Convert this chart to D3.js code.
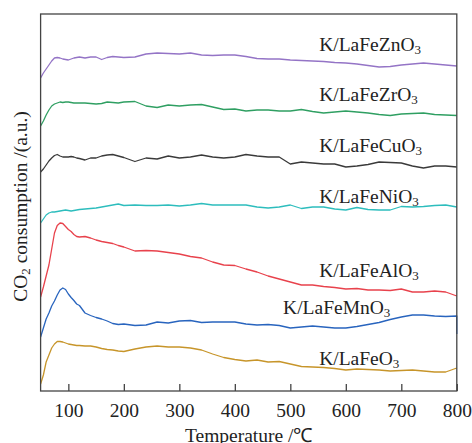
<!DOCTYPE html>
<html>
<head>
<meta charset="utf-8">
<script src="https://cdn.jsdelivr.net/npm/d3@7"></script>
<style>
  html, body { margin: 0; padding: 0; background: #fff; }
  svg { display: block; font-family: "Liberation Serif", "Times New Roman", serif; }
</style>
</head>
<body>
<svg id="chart"></svg>
<script>
// temperature grid (°C) shared by all curves
const temps = [50, 55, 60, 65, 70, 75, 80, 85, 90, 95, 100, 105, 110, 115, 120,
  130, 140, 150, 160, 170, 180, 190,
  200, 220, 240, 260, 280, 300, 320, 340, 360, 380, 400, 420, 440, 460, 480, 500,
  520, 540, 560, 580, 600, 620, 640, 660, 680, 700, 720, 740, 760, 780, 800];

// CO2 signal, arbitrary units (curves are stacked with offsets as in the figure)
const znO3 = [31.3, 31.8, 32.2, 32.6, 33.0, 33.3, 33.35, 33.3, 33.2, 33.15, 33.1, 33.2, 33.3, 33.35, 33.4,
  33.3, 33.4, 33.4, 33.15, 33.35, 33.45, 33.4,
  33.35, 33.4, 33.7, 33.8, 33.75, 33.7, 33.8, 33.6, 33.55, 33.6, 33.6, 33.45, 33.25, 33.2, 33.2, 33.1,
  33.05, 33.0, 32.95, 32.85, 32.8, 32.7, 32.55, 32.4, 32.45, 32.6, 32.7, 32.8, 32.7, 32.6, 32.5];
const zrO3 = [26.5, 27.0, 27.6, 28.1, 28.5, 28.7, 28.8, 28.9, 28.85, 28.9, 28.9, 28.85, 28.8, 28.8, 28.8,
  28.8, 28.75, 28.7, 28.75, 28.9, 28.85, 28.8,
  28.9, 28.95, 28.5, 28.35, 28.6, 28.5, 28.6, 28.65, 28.4, 28.15, 28.2, 28.0, 28.1, 28.1, 28.0, 28.0,
  28.15, 27.95, 27.8, 27.9, 28.0, 27.9, 27.8, 27.65, 27.55, 27.7, 27.75, 27.8, 27.65, 27.6, 27.55];
const cuO3 = [21.9, 22.2, 22.6, 23.0, 23.3, 23.55, 23.65, 23.5, 23.4, 23.4, 23.4, 23.45, 23.4, 23.3, 23.25,
  23.1, 23.3, 23.3, 23.5, 23.6, 23.65, 23.5,
  23.35, 22.95, 23.3, 23.2, 23.5, 23.3, 23.4, 23.6, 23.4, 23.3, 23.4, 23.65, 23.5, 23.4, 23.4, 22.7,
  22.9, 22.8, 22.7, 22.7, 22.4, 22.5, 22.65, 22.9, 22.85, 22.8, 22.5, 22.3, 22.5, 22.5, 22.4];
const niO3 = [16.8, 17.2, 17.6, 17.8, 17.9, 17.9, 17.95, 18.0, 18.05, 18.1, 18.05, 18.0, 18.05, 18.1, 18.15,
  18.2, 18.25, 18.3, 18.4, 18.5, 18.6, 18.7,
  18.55, 18.6, 18.55, 18.55, 18.6, 18.5, 18.6, 18.75, 18.6, 18.6, 18.6, 18.6, 18.4, 18.3, 18.4, 18.6,
  18.25, 18.4, 18.4, 18.2, 18.1, 18.35, 18.15, 18.1, 18.1, 18.45, 18.4, 18.45, 18.55, 18.6, 18.4];
const alO3 = [9.4, 10.4, 11.5, 12.6, 14.2, 15.8, 16.55, 16.8, 16.75, 16.45, 16.15, 15.95, 15.65, 15.45, 15.4,
  15.45, 15.3, 15.1, 14.95, 14.85, 14.75, 14.55,
  14.4, 14.0, 14.05, 14.0, 13.85, 13.7, 13.45, 13.3, 12.9, 12.6, 12.55, 12.2, 11.9, 11.5, 11.2, 10.9,
  10.6, 10.6, 10.45, 10.35, 10.2, 10.25, 10.1, 10.1, 10.05, 10.2, 9.9, 9.9, 10.0, 9.9, 9.5];
const mnO3 = [5.4, 6.3, 7.2, 7.8, 8.5, 9.0, 9.6, 10.1, 10.3, 10.15, 9.7, 9.35, 9.05, 8.7, 8.55,
  7.8, 7.55, 7.35, 7.2, 7.0, 6.75, 6.65,
  6.7, 6.55, 6.6, 6.9, 6.8, 7.0, 7.05, 6.85, 6.9, 6.9, 6.9, 6.7, 6.6, 6.65, 6.55, 6.3,
  6.4, 6.5, 6.4, 6.3, 6.3, 6.45, 6.65, 6.85, 7.15, 7.4, 7.6, 7.6, 7.5, 7.45, 7.5];
const mnO3End = 5.7; // sharp drop recorded at 800 °C
const feO3 = [0.7, 1.6, 2.9, 3.6, 4.3, 4.7, 4.95, 4.95, 4.9, 4.8, 4.7, 4.65, 4.6, 4.55, 4.55,
  4.5, 4.5, 4.4, 4.25, 4.15, 4.1, 4.0,
  3.95, 4.2, 4.4, 4.5, 4.4, 4.4, 4.3, 4.1, 3.7, 3.35, 3.15, 3.0, 3.1, 2.9, 2.95, 2.7,
  2.45, 2.4, 2.35, 2.25, 2.1, 2.2, 2.15, 2.1, 2.0, 2.05, 2.1, 2.0, 1.9, 1.9, 2.3];

const seriesNames = ["K/LaFeZnO", "K/LaFeZrO", "K/LaFeCuO", "K/LaFeNiO", "K/LaFeAlO", "K/LaFeMnO", "K/LaFeO"];
const seriesValues = [znO3, zrO3, cuO3, niO3, alO3, mnO3, feO3];
const seriesColors = ["#9474c6", "#2f9f62", "#3a3a3a", "#2dbdbd", "#e8424c", "#2864be", "#c7952a"];
// label anchor [temperature, signal] per curve
const labelAt = [[552, 34.0], [552, 29.0], [552, 23.9], [552, 18.8], [552, 11.4], [487, 7.7], [552, 2.6]];
const xTicks = [100, 200, 300, 400, 500, 600, 700, 800];

const width = 472;
const height = 443;
const margin = { top: 14, right: 15.2, bottom: 52, left: 40.6 };
const fontSize = 19.5;

const svg = d3.select("#chart").attr("width", width).attr("height", height);

const x = d3.scaleLinear().domain([50, 800]).range([margin.left, width - margin.right]);
const y = d3.scaleLinear().domain([0, 37.7]).range([height - margin.bottom, margin.top]);

const line = d3.line()
  .x((d) => x(d[0]))
  .y((d) => y(d[1]));

const curves = seriesValues.map((vals, i) => {
  const pts = temps.map((t, j) => [t, vals[j]]);
  if (i === 5) pts.push([800, mnO3End]);
  return { name: seriesNames[i], color: seriesColors[i], pts };
});

svg.append("g")
  .selectAll("path")
  .data(curves)
  .join("path")
  .attr("d", (d) => line(d.pts))
  .attr("fill", "none")
  .attr("stroke", (d) => d.color)
  .attr("stroke-width", 1.3)
  .attr("stroke-linejoin", "round");

// frame
svg.append("rect")
  .attr("x", x.range()[0])
  .attr("y", y.range()[1])
  .attr("width", x.range()[1] - x.range()[0])
  .attr("height", y.range()[0] - y.range()[1])
  .attr("fill", "none")
  .attr("stroke", "#444")
  .attr("stroke-width", 1.3);

const xAxis = svg.append("g")
  .attr("transform", `translate(0,${y.range()[0]})`)
  .call(d3.axisBottom(x).tickValues(xTicks).tickSizeInner(-7).tickSizeOuter(0).tickPadding(12));
xAxis.select(".domain").remove();
xAxis.selectAll("line").attr("stroke", "#444").attr("stroke-width", 1.3);
xAxis.selectAll("text")
  .attr("font-family", "Liberation Serif, Times New Roman, serif")
  .attr("font-size", fontSize)
  .attr("fill", "#222");

// curve labels with subscript 3
const labels = svg.append("g")
  .selectAll("text")
  .data(curves)
  .join("text")
  .attr("x", (d, i) => x(labelAt[i][0]))
  .attr("y", (d, i) => y(labelAt[i][1]))
  .attr("font-size", fontSize)
  .attr("fill", "#222");
labels.append("tspan").text((d) => d.name);
labels.append("tspan").attr("font-size", 13).attr("dy", 3).text("3");

// axis titles
svg.append("text")
  .attr("x", (x.range()[0] + x.range()[1]) / 2)
  .attr("y", 441.5)
  .attr("text-anchor", "middle")
  .attr("font-size", fontSize)
  .attr("fill", "#222")
  .text("Temperature /℃");

const yTitle = svg.append("text")
  .attr("transform", "translate(27,206.5) rotate(-90)")
  .attr("text-anchor", "middle")
  .attr("font-size", fontSize)
  .attr("fill", "#222");
yTitle.append("tspan").text("CO");
yTitle.append("tspan").attr("font-size", 13).attr("dy", 3).text("2");
yTitle.append("tspan").attr("dy", -3).text(" consumption /(a.u.)");
</script>
</body>
</html>
